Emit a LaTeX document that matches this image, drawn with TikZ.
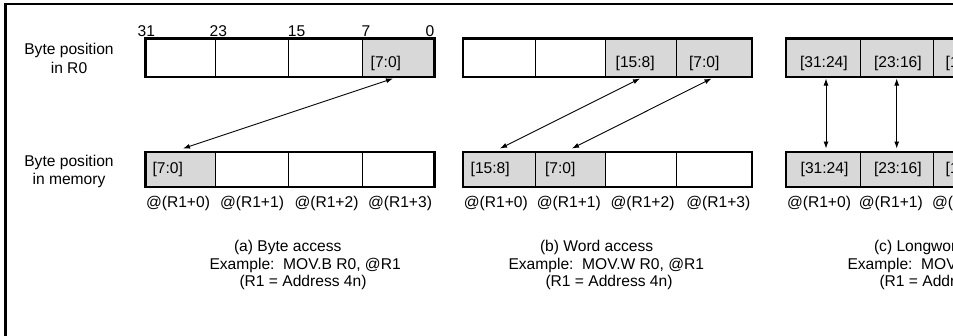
\documentclass[tikz,border=0pt]{standalone}
\usepackage{fontspec}
\setmainfont{Liberation Sans}
\usetikzlibrary{arrows.meta,calc}
\definecolor{cellgray}{RGB}{216,216,216}
\tikzset{
  txt/.style={font=\fontsize{15.6}{17.5}\selectfont, inner sep=0pt, outer sep=0pt},
  cellbase/.style={draw, line width=0.9pt, inner sep=0pt, outer sep=0pt, anchor=center},
  rcell/.style={cellbase, minimum height=38.5pt},
  mcell/.style={cellbase, minimum height=35pt},
  hl/.style={fill=cellgray},
  outline/.style={draw, line width=2.2pt},
  link/.style={{Latex[length=7pt,width=5pt]}-{Latex[length=7pt,width=5pt]}, line width=0.9pt},
  framebox/.style={line width=2.5pt},
}
\begin{document}
\begin{tikzpicture}[x=1pt,y=-1pt]
\useasboundingbox (0,0) rectangle (953,335);
\clip (0,0) rectangle (953,335);
\fill[white] (0,0) rectangle (953,335);
% outer frame
\draw[framebox] (5.5,400) -- (5.5,3.8) -- (1200,3.8);

% row labels
\node[txt, anchor=base] (lr1) at (69,54.2) {Byte position};
\node[txt, anchor=base] (lr2) at (69,73) {in R0};
\node[txt, anchor=base] (lm1) at (69,166) {Byte position};
\node[txt, anchor=base] (lm2) at (69,184.8) {in memory};

% bit numbers
\node[txt, anchor=base] (b31) at (146.3,36.3) {31};
\node[txt, anchor=base] (b23) at (218.3,36.3) {23};
\node[txt, anchor=base] (b15) at (296.5,36.3) {15};
\node[txt, anchor=base] (b7)  at (366,36.3) {7};
\node[txt, anchor=base] (b0)  at (430,36.3) {0};

% ---------- (a) byte access ----------
\node[rcell, minimum width=69.5pt] (aR1) at (180.25,57.75) {};
\node[rcell, minimum width=73pt]   (aR2) at (251.5,57.75) {};
\node[rcell, minimum width=74pt]   (aR3) at (325,57.75) {};
\node[rcell, hl, minimum width=72.5pt] (aR4) at (398.25,57.75) {};
\draw[outline] (145.5,38.5) rectangle (434.5,77);
\node[txt, anchor=base west] (aR4t) at (370.7,67.5) {[7:0]};

\node[mcell, hl, minimum width=69.5pt] (aM1) at (180.25,169.5) {};
\node[mcell, minimum width=73pt]   (aM2) at (251.5,169.5) {};
\node[mcell, minimum width=74pt]   (aM3) at (325,169.5) {};
\node[mcell, minimum width=72.5pt] (aM4) at (398.25,169.5) {};
\draw[outline] (145.5,152) rectangle (434.5,187);
\node[txt, anchor=base west] (aM1t) at (152.5,173.5) {[7:0]};

\node[txt, anchor=base] (aA0) at (178,207.5) {@(R1+0)};
\node[txt, anchor=base] (aA1) at (252,207.5) {@(R1+1)};
\node[txt, anchor=base] (aA2) at (326.5,207.5) {@(R1+2)};
\node[txt, anchor=base] (aA3) at (400,207.5) {@(R1+3)};

\node[txt, anchor=base west] (aCap) at (234,251.7) {(a) Byte access};
\node[txt, anchor=base west] (aEx)  at (209.5,269.2) {Example:\ \ MOV.B R0, @R1};
\node[txt, anchor=base west] (aR)   at (239.5,286.7) {(R1 = Address 4n)};

\coordinate (aTop) at (393,78.5);
\coordinate (aBot) at (183,148.5);
\draw[link] (aTop) -- (aBot);

% ---------- (b) word access ----------
\node[rcell, minimum width=73pt]   (bR1) at (499.2,57.75) {};
\node[rcell, minimum width=70pt]   (bR2) at (570.7,57.75) {};
\node[rcell, hl, minimum width=71pt] (bR3) at (641.2,57.75) {};
\node[rcell, hl, minimum width=75pt] (bR4) at (714.2,57.75) {};
\draw[outline] (462.7,38.5) rectangle (751.7,77);
\node[txt, anchor=base west] (bR3t) at (615.7,67.5) {[15:8]};
\node[txt, anchor=base west] (bR4t) at (689,67.5) {[7:0]};

\node[mcell, hl, minimum width=73pt] (bM1) at (499.2,169.5) {};
\node[mcell, hl, minimum width=70pt] (bM2) at (570.7,169.5) {};
\node[mcell, minimum width=71pt]   (bM3) at (641.2,169.5) {};
\node[mcell, minimum width=75pt]   (bM4) at (714.2,169.5) {};
\draw[outline] (462.7,152) rectangle (751.7,187);
\node[txt, anchor=base west] (bM1t) at (470.7,173.5) {[15:8]};
\node[txt, anchor=base west] (bM2t) at (545,173.5) {[7:0]};

\node[txt, anchor=base] (bA0) at (495.8,207.5) {@(R1+0)};
\node[txt, anchor=base] (bA1) at (568.8,207.5) {@(R1+1)};
\node[txt, anchor=base] (bA2) at (642.5,207.5) {@(R1+2)};
\node[txt, anchor=base] (bA3) at (718.3,207.5) {@(R1+3)};

\node[txt, anchor=base west] (bCap) at (540,251.7) {(b) Word access};
\node[txt, anchor=base west] (bEx)  at (508.5,269.2) {Example:\ \ MOV.W R0, @R1};
\node[txt, anchor=base west] (bR)   at (545.5,286.7) {(R1 = Address 4n)};

\coordinate (bTop1) at (640,78.5);
\coordinate (bBot1) at (500,148.5);
\coordinate (bTop2) at (711.5,78.5);
\coordinate (bBot2) at (572,148.5);
\draw[link] (bTop1) -- (bBot1);
\draw[link] (bTop2) -- (bBot2);

% ---------- (c) longword access ----------
\node[rcell, hl, minimum width=74.3pt] (cR1) at (822.85,57.75) {};
\node[rcell, hl, minimum width=73.3pt] (cR2) at (896.65,57.75) {};
\node[rcell, hl, minimum width=73.3pt] (cR3) at (969.95,57.75) {};
\draw[outline] (785.7,38.5) rectangle (1080,77);
\node[txt, anchor=base west] (cR1t) at (800,67.5) {[31:24]};
\node[txt, anchor=base west] (cR2t) at (874,67.5) {[23:16]};
\node[txt, anchor=base west] (cR3t) at (945.7,67.5) {[15:8]};

\node[mcell, hl, minimum width=74.3pt] (cM1) at (822.85,169.5) {};
\node[mcell, hl, minimum width=73.3pt] (cM2) at (896.65,169.5) {};
\node[mcell, hl, minimum width=73.3pt] (cM3) at (969.95,169.5) {};
\draw[outline] (785.7,152) rectangle (1080,187);
\node[txt, anchor=base west] (cM1t) at (800.7,173.5) {[31:24]};
\node[txt, anchor=base west] (cM2t) at (874,173.5) {[23:16]};
\node[txt, anchor=base west] (cM3t) at (945.7,173.5) {[15:8]};

\node[txt, anchor=base] (cA0) at (819,207.5) {@(R1+0)};
\node[txt, anchor=base] (cA1) at (890.8,207.5) {@(R1+1)};
\node[txt, anchor=base] (cA2) at (964,207.5) {@(R1+2)};

\node[txt, anchor=base west] (cCap) at (874,251.7) {(c) Longword access};
\node[txt, anchor=base west] (cEx)  at (847.5,269.2) {Example:\ \ MOV.L R0, @R1};
\node[txt, anchor=base west] (cR)   at (879.5,286.7) {(R1 = Address 4n)};

\coordinate (cTop1) at (826,78.5);
\coordinate (cBot1) at (826,148.5);
\coordinate (cTop2) at (896.7,78.5);
\coordinate (cBot2) at (896.7,148.5);
\draw[link] (cTop1) -- (cBot1);
\draw[link] (cTop2) -- (cBot2);
\end{tikzpicture}
\end{document}
